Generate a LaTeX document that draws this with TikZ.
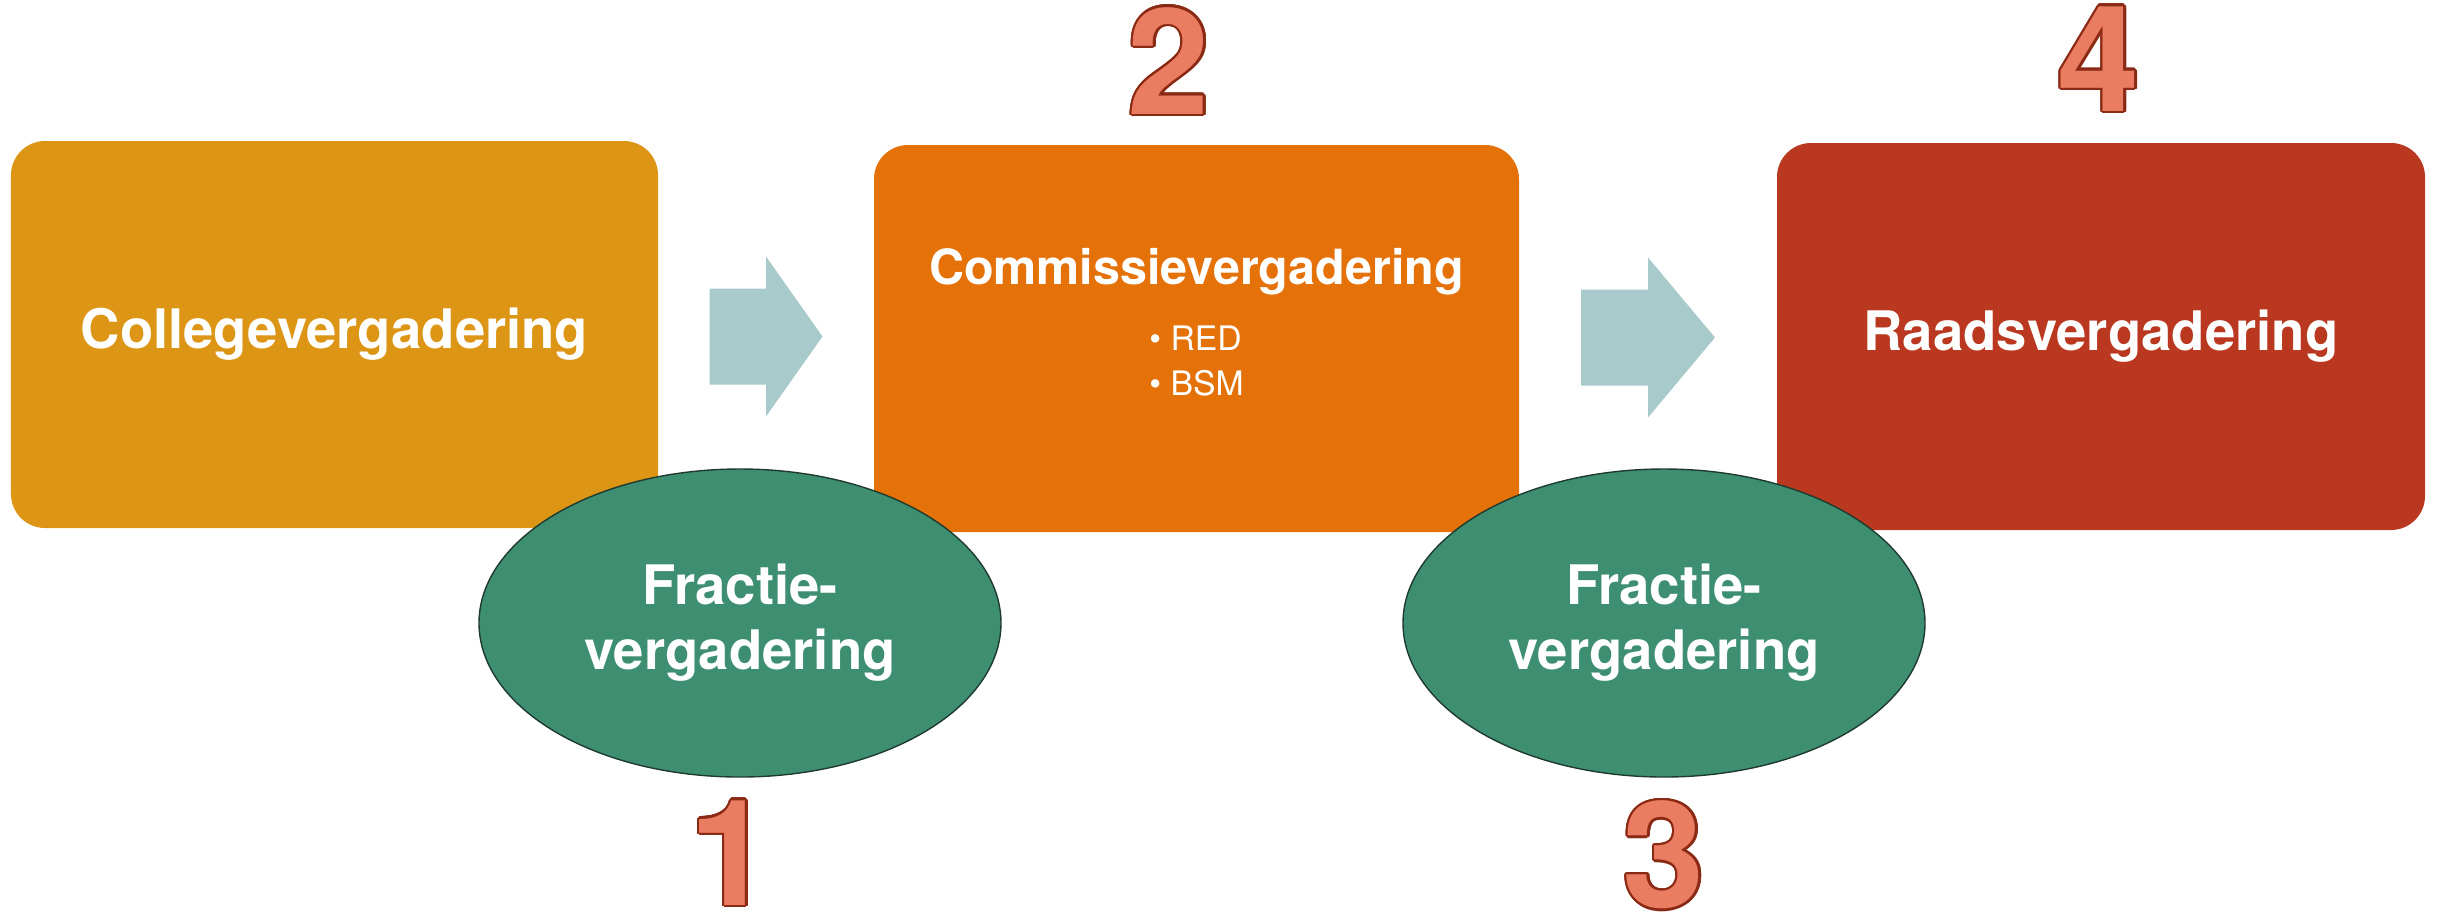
\documentclass[tikz,border=0pt]{standalone}
\usepackage{fontspec}
\setmainfont{TeX Gyre Heros}
\usepackage{contour}
\usetikzlibrary{shapes.geometric,positioning}

\definecolor{collegegold}{HTML}{DD9515}
\definecolor{commissieorange}{HTML}{E57109}
\definecolor{raadred}{HTML}{B9381F}
\definecolor{fractiegreen}{HTML}{3E8F72}
\definecolor{fractieline}{HTML}{1E3B2E}
\definecolor{flowgrey}{HTML}{A9CACA}
\definecolor{nrfill}{HTML}{EA7C62}
\definecolor{nrline}{HTML}{8B2A14}
\contourlength{0.7pt}

\begin{document}
\begin{tikzpicture}[every node/.style={outer sep=0pt},
 box/.style={rounded corners=0.34cm,minimum width=6.47cm,minimum height=3.87cm,
 text=white,font=\bfseries\fontsize{15.5}{18.5}\selectfont},
 fractie/.style={ellipse,draw=fractieline,line width=0.4pt,fill=fractiegreen,
 minimum width=5.22cm,minimum height=3.08cm,text=white,align=center,
 font=\bfseries\fontsize{15.5}{18.5}\selectfont},
 stepnr/.style={font=\bfseries\fontsize{42}{42}\selectfont},
 flowarrow/.pic={\fill[flowgrey] (-0.5,0.48) -- (0,0.48) -- (0,0.8) -- (0.5,0)
 -- (0,-0.8) -- (0,-0.48) -- (-0.5,-0.48) -- cycle;}]

 \useasboundingbox (0,0) rectangle (24.38,-9.11);

 % the three meetings
 \node[box,fill=collegegold] (college) at (3.345,-3.345) {Collegevergadering};
 \node[box,fill=commissieorange,minimum width=6.45cm] (commissie) at (11.965,-3.385) {};
 \node[box,fill=raadred,minimum width=6.48cm] (raad) at (21.01,-3.365) {Raadsvergadering};

 \node[text=white,font=\bfseries\fontsize{13.8}{16}\selectfont] (commtitle) at (11.965,-2.72) {Commissievergadering};
 \node[text=white,align=left,font=\fontsize{9.6}{12.8}\selectfont] (commlist) at (11.965,-3.605) {• RED\\• BSM};

 % flow arrows
 \path (college.east) -- (commissie.west) pic[pos=0.5,xscale=1.13] {flowarrow};
 \path (commissie.east) -- (raad.west) pic[pos=0.5,xscale=1.34] {flowarrow};

 % fractions
 \node[fractie] (fractie1) at (7.40,-6.23) {Fractie-\\vergadering};
 \node[fractie] (fractie2) at (16.64,-6.23) {Fractie-\\vergadering};

 % step numbers
 \node[stepnr] (nr1) at (7.31,-8.54) {\contour{nrline}{\textcolor{nrfill}{1}}};
 \node[stepnr] (nr2) at (11.69,-0.62) {\contour{nrline}{\textcolor{nrfill}{2}}};
 \node[stepnr] (nr3) at (16.64,-8.56) {\contour{nrline}{\textcolor{nrfill}{3}}};
 \node[stepnr] (nr4) at (20.99,-0.60) {\contour{nrline}{\textcolor{nrfill}{4}}};

\end{tikzpicture}
\end{document}
